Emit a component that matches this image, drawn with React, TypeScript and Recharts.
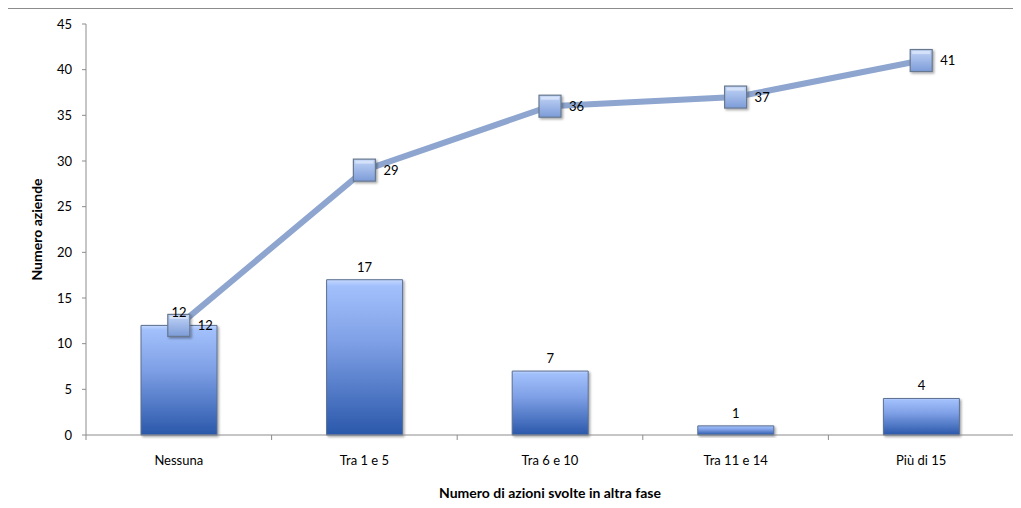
import React from 'react';
import { ComposedChart, Bar, Line, XAxis, YAxis, LabelList, Label } from 'recharts';

// Categories and series
const categories = ['Nessuna', 'Tra 1 e 5', 'Tra 6 e 10', 'Tra 11 e 14', 'Più di 15'];
const aziende = [12, 17, 7, 1, 4];
const cumulative = [12, 29, 36, 37, 41];
const yTicks = [0, 5, 10, 15, 20, 25, 30, 35, 40, 45];

const data = categories.map((name, i) => ({ name, aziende: aziende[i], cumulative: cumulative[i] }));

const W = 1012;
const H = 499;
const MARGIN = { top: 15, right: 6, left: 0, bottom: 0 };
const Y_AXIS_W = 78;
const BAND = (W - MARGIN.right - Y_AXIS_W) / categories.length;
const FONT = 'Lato, "Open Sans", sans-serif';

// Category ticks: label at band centre, tick marks on band boundaries
const CategoryTick = (props: any) => {
  const { x, y, payload, index } = props;
  const half = BAND / 2;
  return (
    <g>
      <line x1={x - half} x2={x - half} y1={y} y2={y + 5} stroke="#8c8c8c" />
      {index === categories.length - 1 && (
        <line x1={x + half} x2={x + half} y1={y} y2={y + 5} stroke="#8c8c8c" />
      )}
      <text x={x} y={y + 30} textAnchor="middle" fontSize={13} fill="#000" fontFamily={FONT}>
        {payload.value}
      </text>
    </g>
  );
};

const SquareDot = (props: any) => {
  const { cx, cy, index } = props;
  if (cx == null || cy == null) return <g key={`d${index}`} />;
  const s = 22;
  return (
    <g key={`d${index}`} filter="url(#shadow)">
      <rect x={cx - s / 2} y={cy - s / 2} width={s} height={s} fill="url(#markerFill)" stroke="#67788f" strokeWidth={1.2} />
      <rect x={cx - s / 2 + 2} y={cy - s / 2 + 1.5} width={s - 4} height={3} fill="#dfe9fb" opacity={0.7} />
    </g>
  );
};

const LineValue = (props: any) => {
  const { x, y, value } = props;
  return (
    <text x={x + 19} y={y + 4.5} fontSize={13} fill="#000" fontFamily={FONT} textAnchor="start">
      {value}
    </text>
  );
};

export default function App() {
  return (
    <div style={{ marginLeft: -1, borderLeft: '1px solid #8c8c8c', borderTop: '1px solid #8c8c8c', width: W, height: H }}>
      <ComposedChart width={W} height={H} data={data} margin={MARGIN}>
        <defs>
          <linearGradient id="barFill" x1="0" y1="0" x2="0" y2="1">
            <stop offset="0%" stopColor="#c4d8ff" />
            <stop offset="4%" stopColor="#a2c0fb" />
            <stop offset="40%" stopColor="#7fa0e6" />
            <stop offset="100%" stopColor="#2a58aa" />
          </linearGradient>
          <linearGradient id="markerFill" x1="0" y1="0" x2="0" y2="1">
            <stop offset="0%" stopColor="#c2d5f7" />
            <stop offset="100%" stopColor="#7c9bd8" />
          </linearGradient>
          <filter id="shadow" x="-30%" y="-30%" width="160%" height="160%">
            <feDropShadow dx="1.5" dy="1.5" stdDeviation="1.2" floodColor="#000" floodOpacity="0.35" />
          </filter>
        </defs>
        <XAxis
          dataKey="name"
          height={73}
          axisLine={{ stroke: '#8c8c8c' }}
          tickLine={false}
          tickSize={0}
          tickMargin={0}
          interval={0}
          tick={<CategoryTick />}
        >
          <Label
            value="Numero di azioni svolte in altra fase"
            position="insideBottom"
            offset={10}
            style={{ fontSize: 14, fontWeight: 700, fill: '#000', fontFamily: FONT }}
          />
        </XAxis>
        <YAxis
          width={Y_AXIS_W}
          domain={[0, 45]}
          ticks={yTicks}
          interval={0}
          axisLine={{ stroke: '#8c8c8c' }}
          tickLine={{ stroke: '#8c8c8c' }}
          tickSize={4}
          tickMargin={10}
          tick={{ fontSize: 13, fill: '#000', fontFamily: FONT }}
        >
          <Label
            value="Numero aziende"
            angle={-90}
            position="center"
            dx={-10}
            style={{ fontSize: 14, fontWeight: 700, fill: '#000', fontFamily: FONT }}
          />
        </YAxis>
        <Bar dataKey="aziende" barSize={76} fill="url(#barFill)" stroke="#5b6f90" strokeWidth={1} filter="url(#shadow)" isAnimationActive={false}>
          <LabelList dataKey="aziende" position="top" offset={8} style={{ fontSize: 13, fill: '#000', fontFamily: FONT }} />
        </Bar>
        <Line
          dataKey="cumulative"
          stroke="#8ea6cf"
          strokeWidth={6}
          dot={SquareDot}
          activeDot={false}
          isAnimationActive={false}
        >
          <LabelList dataKey="cumulative" content={LineValue} />
        </Line>
      </ComposedChart>
    </div>
  );
}
